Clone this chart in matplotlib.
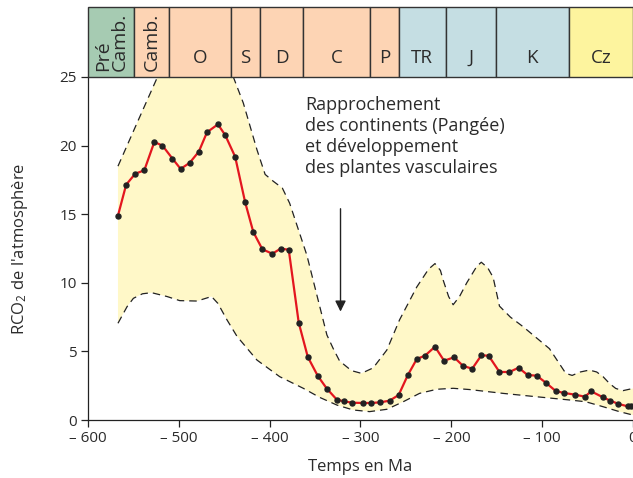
import numpy as np
import matplotlib.pyplot as plt
from matplotlib.patches import Rectangle

plt.rcParams['font.family'] = ['Open Sans', 'DejaVu Sans']
plt.rcParams['mathtext.default'] = 'regular'

# Périodes géologiques (limites en Ma)
periodes = ["Pré\nCamb.", "Camb.", "O", "S", "D", "C", "P", "TR", "J", "K", "Cz"]
limites = [-600, -549, -511, -443, -411, -363, -289, -258, -206, -151, -71, 0]
couleurs_periodes = ["#a6cbb2", "#fdd4b4", "#fdd4b4", "#fdd4b4", "#fdd4b4", "#fdd4b4",
                     "#fdd4b4", "#c5dee3", "#c5dee3", "#c5dee3", "#fdf49e"]

# Courbe RCO2 (âge en Ma, valeur)
age = [-567, -558, -548, -538, -527, -518, -507, -498, -488, -478, -469, -457, -449,
       -438, -427, -418, -408, -397, -388, -379, -368, -358, -347, -337, -326, -318,
       -309, -297, -288, -278, -268, -258, -248, -238, -229, -218, -208, -197, -187,
       -177, -167, -159, -147, -136, -126, -116, -106, -96, -85, -76, -64, -53, -46,
       -33, -25, -16, -6, -2]
rco2 = [14.9, 17.15, 17.95, 18.2, 20.26, 20.0, 19.05, 18.3, 18.75, 19.56, 20.97, 21.55,
        20.77, 19.19, 15.87, 13.7, 12.44, 12.12, 12.49, 12.41, 7.09, 4.59, 3.21, 2.28,
        1.48, 1.36, 1.26, 1.24, 1.24, 1.29, 1.41, 1.82, 3.26, 4.45, 4.69, 5.34, 4.32,
        4.57, 3.94, 3.74, 4.71, 4.69, 3.5, 3.5, 3.81, 3.28, 3.23, 2.72, 2.11, 1.97,
        1.85, 1.70, 2.09, 1.65, 1.41, 1.17, 1.0, 1.04]

# Enveloppe d'incertitude : borne haute et borne basse
age_haut = [-567, -545, -523.5, -505, -480, -455, -440, -429, -414, -405, -396, -386,
            -378, -370, -359, -348, -337, -330, -323, -310, -299, -286, -271, -257,
            -238, -225, -218, -212, -209, -203, -198, -191, -183, -172, -167, -160,
            -154, -147, -135, -121, -92, -74, -67, -58, -48, -40, -33, -26, -19, -11, 0]
rco2_haut = [18.5, 21.8, 25, 27.5, 28.5, 27.5, 25, 23.1, 19.7, 17.9, 17.4, 16.9,
             15.8, 14.2, 12.0, 9.1, 6.2, 5.2, 4.3, 3.6, 3.4, 3.8, 5.1, 7.3,
             9.7, 11.0, 11.4, 10.9, 10.2, 9.0, 8.4, 9.0, 10.0, 11.2, 11.5, 11.1,
             10.4, 8.3, 7.5, 6.8, 5.2, 3.4, 3.25, 3.5, 3.64, 3.5, 3.16, 2.67, 2.3, 2.14, 2.3]
age_bas = [-567, -557, -550, -540, -530, -513, -499, -480, -464, -457, -447, -436,
           -414, -389, -363, -345, -326, -308, -290, -271, -253, -235, -216, -198,
           -180, -143, -107, -70, -52, -33, -15, 0]
rco2_bas = [7.05, 8.26, 8.87, 9.2, 9.28, 9.0, 8.7, 8.67, 9.0, 8.5, 7.3, 6.1,
            4.37, 3.16, 2.31, 1.65, 1.09, 0.73, 0.61, 0.78, 1.33, 1.94, 2.24, 2.31,
            2.22, 1.94, 1.7, 1.46, 1.33, 0.97, 0.61, 0.36]

texte_gris = "#2b2b2b"

fig = plt.figure(figsize=(6.33, 4.78), dpi=100)
ax = fig.add_axes([88 / 633, 58 / 478, 1 - 88 / 633, 343 / 478])
frise = fig.add_axes([88 / 633, 401 / 478, 1 - 88 / 633, 70 / 478])

# Enveloppe jaune et bornes en tirets
ax.fill(np.r_[age_haut, age_bas[::-1]], np.r_[rco2_haut, rco2_bas[::-1]],
        color="#fff8c8", lw=0, zorder=1)
ax.plot(age_haut, rco2_haut, color="#222222", lw=0.9, ls=(0, (6, 4)), zorder=2)
ax.plot(age_bas, rco2_bas, color="#222222", lw=0.9, ls=(0, (6, 4)), zorder=2)

# Courbe principale
ax.plot(age, rco2, color="#e3161f", lw=1.6, zorder=3)
ax.plot(age, rco2, "o", color="#222222", ms=3.6, zorder=4)

ax.set_xlim(-600, 0)
ax.set_ylim(0, 25)
ax.spines[['top', 'right']].set_visible(False)
for s in ('left', 'bottom'):
    ax.spines[s].set_color("#222222")
    ax.spines[s].set_linewidth(0.9)
ax.set_xticks(range(-600, 1, 100))
ax.set_xticklabels(["– 600", "– 500", "– 400", "– 300", "– 200", "– 100", "0"])
ax.set_yticks(range(0, 26, 5))
ax.tick_params(direction='out', length=5, width=0.9, color="#222222",
               labelsize=11, labelcolor=texte_gris, pad=3)
ax.set_xlabel("Temps en Ma", fontsize=12, color=texte_gris, labelpad=9)
ax.set_ylabel("RCO$_2$ de l'atmosphère", fontsize=12, color=texte_gris, labelpad=21)

# Annotation
ax.text(-361, 23.6, "Rapprochement\ndes continents (Pangée)\net développement\ndes plantes vasculaires",
        fontsize=13, color=texte_gris, ha='left', va='top', linespacing=1.22)
ax.annotate("", xy=(-322, 7.7), xytext=(-322, 15.6),
            arrowprops=dict(arrowstyle='-|>', color="#222222", lw=1, mutation_scale=16))

# Frise des périodes
frise.set_xlim(-600, 0)
frise.set_ylim(0, 1)
frise.axis('off')
for i, nom in enumerate(periodes):
    x0, x1 = limites[i], limites[i + 1]
    frise.add_patch(Rectangle((x0, 0), x1 - x0, 1, facecolor=couleurs_periodes[i],
                              edgecolor="#333333", lw=1, clip_on=False))
    xc = (x0 + x1) / 2
    if i < 2:
        frise.text(xc, 0.09, nom, rotation=90, ha='center', va='bottom',
                   multialignment='left', fontsize=14, color=texte_gris, linespacing=0.9)
    else:
        frise.text(xc, 0.27, nom, ha='center', va='center', fontsize=13.5, color=texte_gris)

fig.savefig("out.png", dpi=100)
